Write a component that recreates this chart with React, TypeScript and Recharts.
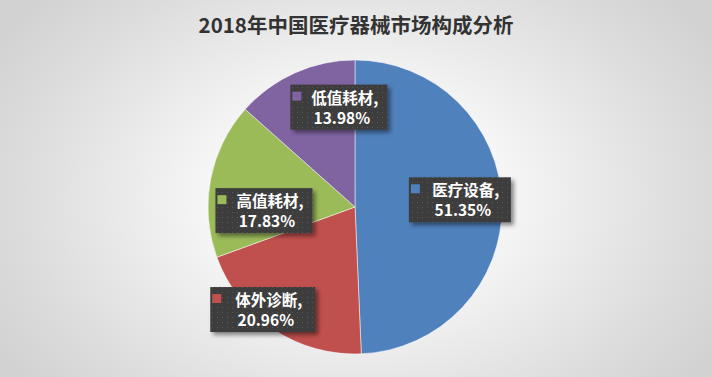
import React from "react";
import { Cell, Pie, PieChart } from "recharts";

const categories = ["医疗设备", "体外诊断", "高值耗材", "低值耗材"];
const shares = [51.35, 20.96, 17.83, 13.98];
const COLORS = ["#4F81BD", "#C0504D", "#9BBB59", "#8064A2"];

// Excel's "best fit" placement, nudged from the 0.7r point
const LABEL_NUDGE = [
  [2, -5],
  [-35, 17],
  [10, 23],
  [26, -6],
];
const BOX_W = [102, 105, 97, 97];

const RAD = Math.PI / 180;
const FONT = '"Noto Sans CJK SC", "Noto Sans", sans-serif';

const pieData = categories.map((name, i) => ({ name, value: shares[i] }));

function renderLabel(props: any) {
  const { cx, cy, midAngle, outerRadius, index, name, value } = props;
  const r = outerRadius * 0.7;
  const x = cx + r * Math.cos(-midAngle * RAD) + LABEL_NUDGE[index][0];
  const y = cy + r * Math.sin(-midAngle * RAD) + LABEL_NUDGE[index][1];
  const w = BOX_W[index];
  const h = 45;
  const left = x - w / 2;
  const top = y - h / 2;
  return (
    <g key={`lbl-${index}`}>
      <rect
        x={left}
        y={top}
        width={w}
        height={h}
        fill="url(#dots)"
        filter="url(#boxShadow)"
      />
      <rect x={left + 2} y={top + 7} width={9} height={9} fill={COLORS[index]} />
      <text
        x={x + 6}
        y={top + 19}
        textAnchor="middle"
        fill="#fff"
        fontFamily={FONT}
        fontWeight="bold"
        fontSize={15.5}
      >
        {name},
      </text>
      <text
        x={x + 3}
        y={top + 39}
        textAnchor="middle"
        fill="#fff"
        fontFamily={FONT}
        fontWeight="bold"
        fontSize={15.5}
      >
        {value.toFixed(2)}%
      </text>
    </g>
  );
}

export default function App() {
  return (
    <div
      style={{
        position: "absolute",
        left: 0,
        top: 0,
        width: 712,
        height: 377,
        background:
          "radial-gradient(ellipse 420px 300px at 50% 52%, #ffffff 0%, #f6f6f6 35%, #dcdcdc 80%, #d2d2d2 100%)",
        overflow: "hidden",
      }}
    >
      <svg width={0} height={0} style={{ position: "absolute" }}>
        <defs>
          <pattern id="dots" width={5} height={5} patternUnits="userSpaceOnUse">
            <rect width={5} height={5} fill="#3c3c3c" />
            <rect x={2} y={2} width={1} height={1} fill="#585858" />
          </pattern>
          <filter id="boxShadow" x="-20%" y="-20%" width="150%" height="160%">
            <feDropShadow dx={3} dy={3} stdDeviation={2} floodColor="#000" floodOpacity={0.45} />
          </filter>
        </defs>
      </svg>
      <div
        style={{
          position: "absolute",
          top: 9,
          left: 0,
          width: 712,
          textAlign: "center",
          fontFamily: FONT,
          fontWeight: "bold",
          fontSize: 20.5,
          color: "#333",
        }}
      >
        2018年中国医疗器械市场构成分析
      </div>
      <PieChart width={712} height={377} style={{ position: "absolute", left: 0, top: 0 }}>
        <Pie
          data={pieData}
          dataKey="value"
          nameKey="name"
          cx={350}
          cy={202}
          outerRadius={147}
          startAngle={90}
          endAngle={-270}
          stroke="#ffffff"
          strokeWidth={0.5}
          label={renderLabel}
          labelLine={false}
          isAnimationActive={false}
        >
          {pieData.map((entry, i) => (
            <Cell key={entry.name} fill={COLORS[i]} />
          ))}
        </Pie>
      </PieChart>
    </div>
  );
}
